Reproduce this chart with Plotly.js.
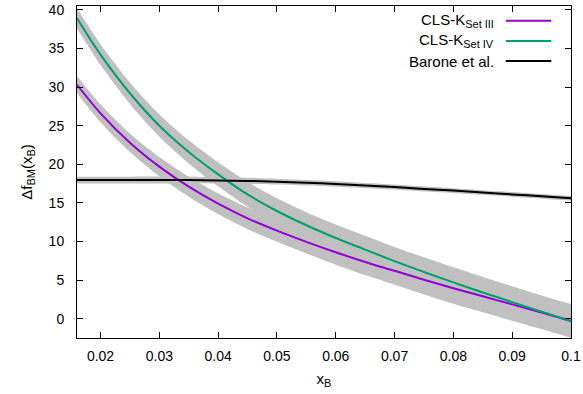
<!DOCTYPE html>
<html>
<head>
<meta charset="utf-8">
<script src="https://cdn.plot.ly/plotly-3.0.1.min.js"></script>
<style>html,body{margin:0;padding:0;background:#fff;}#plot{width:583px;height:394px;}</style>
</head>
<body>
<div id="plot"></div>
<script>
var xB = [0.016, 0.02, 0.025, 0.03, 0.035, 0.04, 0.045, 0.05, 0.055, 0.06, 0.065, 0.07, 0.075, 0.08, 0.085, 0.09, 0.095, 0.1];
var setIII = [30.3, 26.6, 22.8, 19.7, 17.1, 14.9, 13.0, 11.4, 9.95, 8.6, 7.35, 6.2, 5.05, 3.95, 2.9, 1.85, 0.8, -0.3];
var setIIIerr = [1.1, 1.15, 1.2, 1.25, 1.3, 1.35, 1.4, 1.45, 1.5, 1.6, 1.7, 1.8, 1.9, 2.0, 2.05, 2.1, 2.15, 2.2];
var setIV = [38.9, 34.2, 29.2, 25.0, 21.6, 18.7, 16.1, 13.95, 12.1, 10.45, 8.95, 7.45, 6.05, 4.7, 3.4, 2.15, 0.9, -0.3];
var setIVerr = [1.3, 1.35, 1.4, 1.45, 1.5, 1.55, 1.6, 1.65, 1.7, 1.75, 1.8, 1.85, 1.9, 1.95, 2.0, 2.05, 2.1, 2.1];
var barone = [17.95, 17.95, 17.95, 17.95, 17.95, 17.9, 17.85, 17.75, 17.6, 17.45, 17.25, 17.05, 16.8, 16.6, 16.35, 16.1, 15.85, 15.6];
var baroneErr = [0.45, 0.45, 0.45, 0.45, 0.42, 0.4, 0.4, 0.38, 0.36, 0.35, 0.34, 0.33, 0.32, 0.31, 0.3, 0.3, 0.3, 0.3];
var seriesNames = ['CLS-K<sub><span style="font-size:11px">Set III</span></sub>', 'CLS-K<sub><span style="font-size:11px">Set IV</span></sub>', 'Barone et al.'];
var xTicks = [0.02, 0.03, 0.04, 0.05, 0.06, 0.07, 0.08, 0.09, 0.1];
var xTickText = ['0.02', '0.03', '0.04', '0.05', '0.06', '0.07', '0.08', '0.09', '0.1'];
var yTicks = [0, 5, 10, 15, 20, 25, 30, 35, 40];

var colors = ['#9400d3', '#009e73', '#000000'];
var bandColor = '#c0c0c0';
var vals = [setIII, setIV, barone];
var errs = [setIIIerr, setIVerr, baroneErr];

var traces = [];
for (var s = 0; s < 3; s++) {
  var up = vals[s].map(function (v, i) { return v + errs[s][i]; });
  var lo = vals[s].map(function (v, i) { return v - errs[s][i]; });
  traces.push({x: xB, y: up, mode: 'lines', line: {width: 0, color: bandColor, shape: 'spline', smoothing: 0.8}, showlegend: false, hoverinfo: 'skip'});
  traces.push({x: xB, y: lo, mode: 'lines', line: {width: 0, color: bandColor, shape: 'spline', smoothing: 0.8}, fill: 'tonexty', fillcolor: bandColor, showlegend: false, hoverinfo: 'skip'});
}
for (var s2 = 0; s2 < 3; s2++) {
  traces.push({x: xB, y: vals[s2], mode: 'lines', name: seriesNames[s2], line: {color: colors[s2], width: 2, shape: 'spline', smoothing: 0.8}, showlegend: false});
}

var fnt = {family: 'Liberation Sans, Arial, sans-serif', size: 14, color: '#000'};
var legFnt = {family: 'Liberation Sans, Arial, sans-serif', size: 15, color: '#000'};
var annotations = [];
var shapes = [];
var legY = [0.9557, 0.8946, 0.8343];
for (var k = 0; k < 3; k++) {
  annotations.push({xref: 'paper', yref: 'paper', x: 0.848, y: legY[k], xanchor: 'right', yanchor: 'middle', text: seriesNames[k], showarrow: false, font: legFnt});
  shapes.push({type: 'line', xref: 'paper', yref: 'paper', x0: 0.868, x1: 0.96, y0: legY[k], y1: legY[k], line: {color: colors[k], width: 2}});
}

var layout = {
  width: 583, height: 394,
  margin: {l: 77, r: 12, t: 6, b: 56},
  paper_bgcolor: '#fff', plot_bgcolor: '#fff',
  font: fnt,
  showlegend: false,
  xaxis: {
    range: [0.016, 0.1], tickvals: xTicks, ticktext: xTickText,
    ticks: 'inside', ticklen: 6, tickcolor: '#000', mirror: 'allticks', ticklabelstandoff: 5,
    showline: true, linecolor: '#000', linewidth: 1, showgrid: false, zeroline: false,
    title: {text: 'x<sub><span style="font-size:11px">B</span></sub>', font: legFnt, standoff: 10}
  },
  yaxis: {
    range: [-2.5, 40.5], tickvals: yTicks,
    ticks: 'inside', ticklen: 6, tickcolor: '#000', mirror: 'allticks', ticklabelstandoff: 9,
    showline: true, linecolor: '#000', linewidth: 1, showgrid: false, zeroline: false,
    title: {text: 'Δf<sub><span style="font-size:11px">BM</span></sub>(x<sub><span style="font-size:11px">B</span></sub>)', font: {family: 'Liberation Sans, Arial, sans-serif', size: 15, color: '#000'}, standoff: 12}
  },
  annotations: annotations,
  shapes: shapes
};

Plotly.newPlot('plot', traces, layout, {staticPlot: true, displayModeBar: false});
</script>
</body>
</html>
